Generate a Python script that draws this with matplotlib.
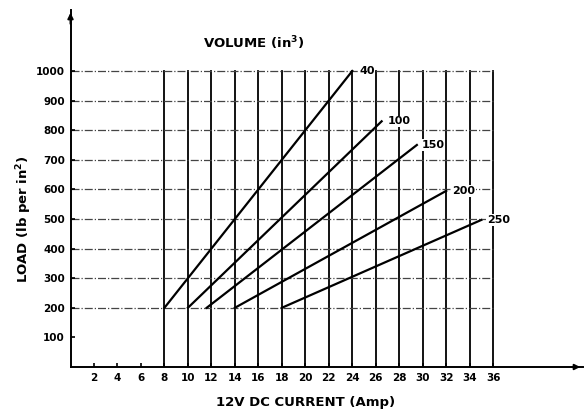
import numpy as np
import matplotlib.pyplot as plt

volumes = ['40', '100', '150', '200', '250']
start_amp = [8, 10, 11.6, 14, 18]
start_load = [200, 200, 200, 200, 200]
end_amp = [24, 26.5, 29.5, 32, 35]
end_load = [1000, 830, 750, 595, 497]

x_ticks = list(range(2, 37, 2))
y_ticks = list(range(100, 1001, 100))
grid_x = list(range(8, 37, 2))
grid_y = list(range(200, 1001, 100))

plt.rcParams['font.family'] = 'DejaVu Sans'
plt.rcParams['font.weight'] = 'bold'

fig = plt.figure(figsize=(5.85, 4.13), dpi=100)
ax = fig.add_axes([70.5/585, 46/413, 512.5/585, 357/413])
ax.set_xlim(0, 43.65)
ax.set_ylim(0, 1206)

for s in ['top', 'right']:
    ax.spines[s].set_visible(False)
for s in ['left', 'bottom']:
    ax.spines[s].set_linewidth(1.4)

# grid
for gx in grid_x:
    ax.plot([gx, gx], [0, 1000], color='black', lw=1.3, zorder=1)
for gy in grid_y:
    ax.plot([0, 36], [gy, gy], color='#444444', lw=0.9, ls='-.', zorder=1)

# volume lines
for v, x0, y0, x1, y1 in zip(volumes, start_amp, start_load, end_amp, end_load):
    ax.plot([x0, x1], [y0, y1], color='black', lw=1.6, zorder=3)

label_dx = [0.6, 0.5, 0.4, 0.5, 0.45]
for v, x1, y1, dx in zip(volumes, end_amp, end_load, label_dx):
    ax.text(x1 + dx, y1, v, ha='left', va='center', fontsize=8,
            fontweight='bold', zorder=4,
            bbox=dict(facecolor='white', edgecolor='none', pad=0.5))

# arrows on axes
ax.annotate('', xy=(0, 1206), xytext=(0, 1150),
            arrowprops=dict(arrowstyle='-|>', color='black', lw=1.4,
                            mutation_scale=8), annotation_clip=False)
ax.annotate('', xy=(43.65, 0), xytext=(42.5, 0),
            arrowprops=dict(arrowstyle='-|>', color='black', lw=1.4,
                            mutation_scale=8), annotation_clip=False)

ax.set_xticks(x_ticks)
ax.set_yticks(y_ticks)
ax.tick_params(direction='in', length=3, width=1.2, labelsize=7.5, pad=4)

ax.text(15.6, 1094, 'VOLUME (in$^3$)', ha='center', va='center',
        fontsize=9.5, fontweight='bold')
ax.set_xlabel('12V DC CURRENT (Amp)', fontsize=9.5, fontweight='bold')
ax.xaxis.set_label_coords(20 / 43.65, -0.08)
ax.set_ylabel('LOAD (lb per in$^2$)', fontsize=9.5, fontweight='bold')
ax.yaxis.set_label_coords(-0.072, 500 / 1206)

fig.savefig('out.png', dpi=100)
